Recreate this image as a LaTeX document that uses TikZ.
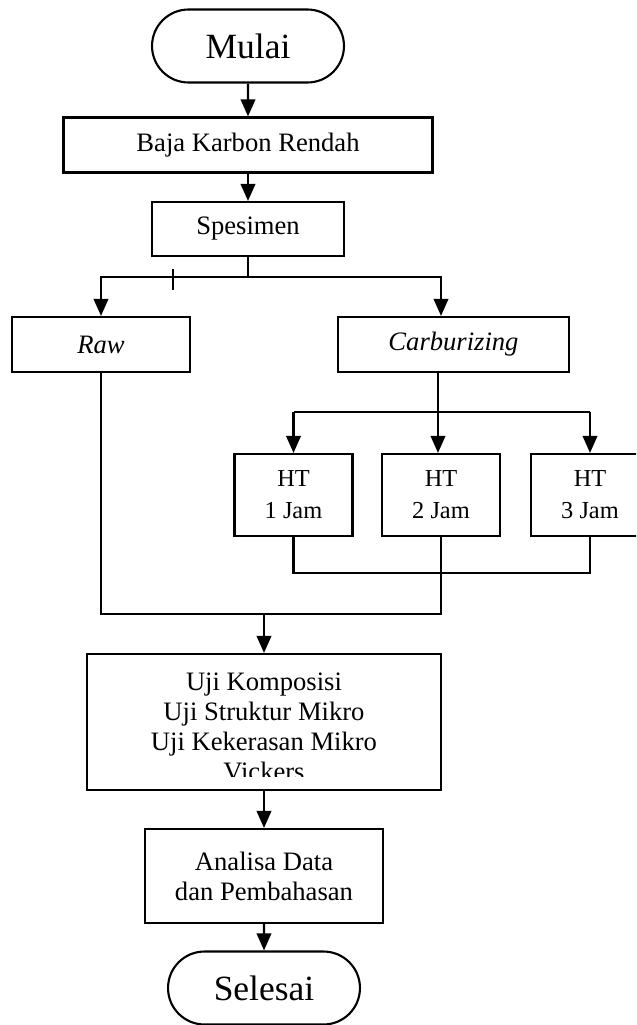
\documentclass[tikz,border=0pt]{standalone}
\usepackage{fontspec}
\setmainfont{Liberation Serif}
\usetikzlibrary{arrows.meta,shapes.misc}

\begin{document}
\begin{tikzpicture}[x=0.01585cm, y=-0.01585cm, line width=0.95pt,
        >={Triangle[width=0.23cm,length=0.27cm]}]
    \tikzstyle{proses} = [draw, rectangle, align=center, inner sep=0pt,
        font=\fontsize{12}{13.5}\selectfont]
    \tikzstyle{terminal} = [draw, rounded rectangle, inner sep=0pt,
        font=\fontsize{16}{19}\selectfont, minimum width=3.043cm, minimum height=1.157cm]
    \tikzstyle{jam} = [proses, font=\fontsize{11}{14.4}\selectfont,
        minimum width=1.870cm, minimum height=1.300cm]
    \clip (0,0) rectangle (636,1025);
    \node[terminal] (mulai) at (248,46) {Mulai};
    \node[proses, minimum width=5.849cm, minimum height=0.872cm] (baja) at (248,145) {Baja Karbon Rendah};
    \node[proses, minimum width=3.043cm, minimum height=0.856cm] (spesimen) at (248,229) {Spesimen};
    \node[proses, minimum width=2.821cm, minimum height=0.872cm] (raw) at (101,344.5) {\textit{Raw}};
    \node[proses, minimum width=3.661cm, minimum height=0.872cm] (carb) at (453.5,344.5) {\textit{Carburizing}};
    \node[jam] (ht1) at (293.5,495) {HT\\1 Jam};
    \node[jam] (ht2) at (441,495) {HT\\2 Jam};
    \node[jam] (ht3) at (590,495) {HT\\3 Jam};
    \node[proses, minimum width=5.611cm, minimum height=2.156cm] (uji) at (264,722) {};
    \begin{scope}
        \clip (uji.north west) rectangle ([yshift=0.23cm]uji.south east);
        \node[align=center, anchor=north, inner sep=0pt, font=\fontsize{12}{13.5}\selectfont] (ujiteks) at (264,672)
            {Uji Komposisi\\Uji Struktur Mikro\\Uji Kekerasan Mikro\\Vickers};
    \end{scope}
    \node[proses, minimum width=3.772cm, minimum height=1.490cm] (analisa) at (264,876) {Analisa Data\\dan Pembahasan};
    \node[terminal] (selesai) at (264,988) {Selesai};

    \draw[->] (mulai) -- (baja);
    \draw[->] (baja) -- (spesimen);
    \coordinate (pisah) at (248,277);
    \coordinate (carbin) at (441,277);
    \draw (spesimen.south) -- (pisah);
    \draw[->] (pisah) -| (raw.north);
    \draw[->] (pisah) -| (carb.north -| carbin);
    \draw (173,269) -- (173,290);

    \coordinate (cabang) at (438,412);
    \draw (carb.south -| cabang) -- (cabang);
    \draw (ht1.north |- cabang) -- (ht3.north |- cabang);
    \draw[->] (ht1.north |- cabang) -- (ht1.north);
    \draw[->] (cabang) -- (ht2.north -| cabang);
    \draw[->] (ht3.north |- cabang) -- (ht3.north);

    \coordinate (gabung) at (441,573);
    \draw (ht1.south) |- (ht3.south |- gabung) -- (ht3.south);
    \coordinate (satu) at (264,614);
    \draw (raw.south) |- (ht2.south |- satu) -- (ht2.south);
    \draw[->] (satu) -- (uji.north);
    \draw[->] (uji) -- (analisa);
    \draw[->] (analisa) -- (selesai);
\end{tikzpicture}
\end{document}
